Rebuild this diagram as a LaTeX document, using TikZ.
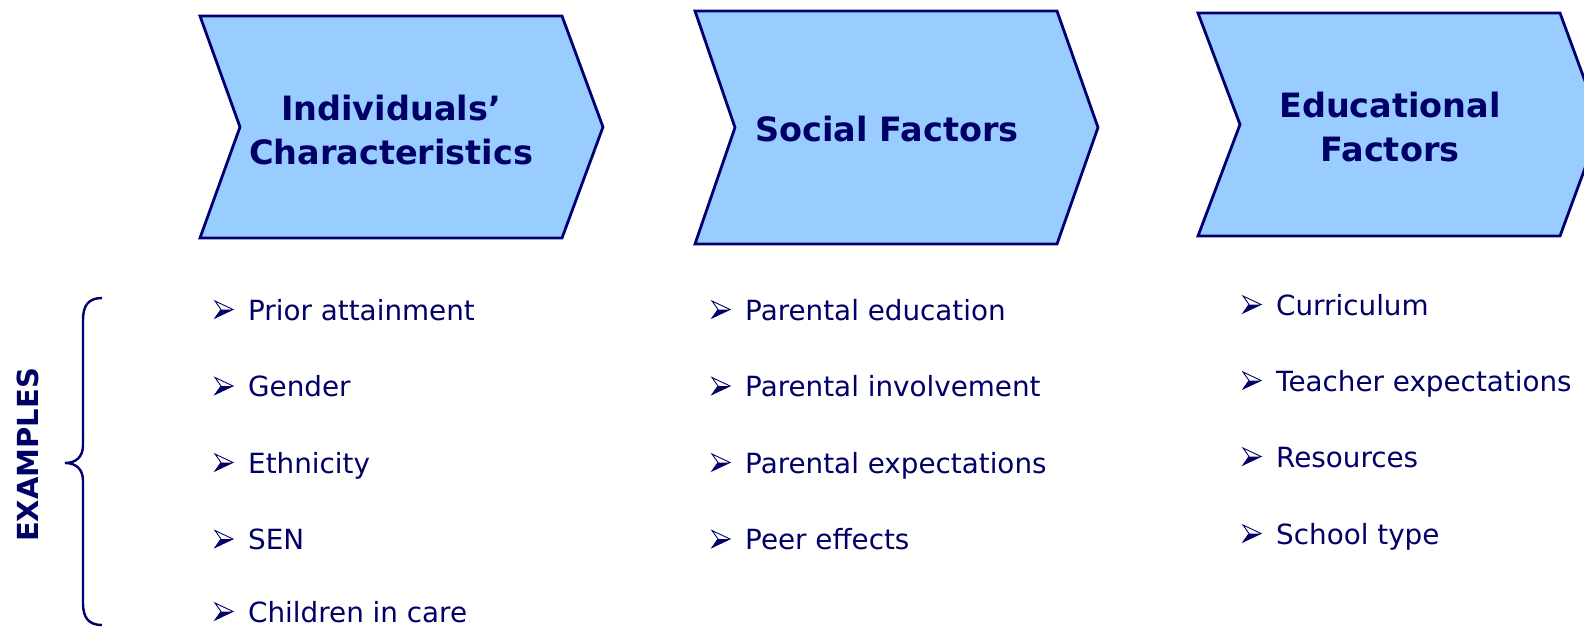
\documentclass[tikz,border=0pt]{standalone}
\usepackage{fontspec}
\setmainfont{DejaVu Sans}
\definecolor{textnavy}{HTML}{000066}
\definecolor{linenavy}{HTML}{000070}
\definecolor{chevfill}{HTML}{99CCFF}

\begin{document}
\begin{tikzpicture}[x=1pt, y=-1pt,
		chevron/.style={draw=linenavy, line width=2.8pt, fill=chevfill, line join=miter},
		heading/.style={text=textnavy, font=\bfseries\fontsize{33.5}{44}\selectfont, align=center, inner sep=0pt},
		item/.style={text=textnavy, font=\fontsize{27.8}{33}\selectfont, anchor=base west, inner sep=0pt},
		brace/.style={draw=linenavy, line width=2.4pt},
		arrowbul/.pic={
			\fill[textnavy] (18,-10.5) -- (6,-10.5) -- (0,-2) -- cycle;
			\draw[textnavy, line width=0.9pt, line join=miter] (18,-10.5) -- (0,-19) -- (6,-10.5) -- (0,-2) -- cycle;
		},
	]
		\useasboundingbox (0,0) rectangle (1584,627);
		\clip (0,0) rectangle (1584,627);
	
		% chevrons
		\draw[chevron] (200,16) -- (562,16) -- (603,127) -- (562,238) -- (200,238) -- (240,127) -- cycle;
		\draw[chevron] (695,11) -- (1057,11) -- (1098,127.5) -- (1057,244) -- (695,244) -- (735,127.5) -- cycle;
		\draw[chevron] (1198,13) -- (1560,13) -- (1601,124.5) -- (1560,236) -- (1198,236) -- (1240,124.5) -- cycle;
		
		\node[heading] (indiv) at (391,130) {Individuals’\\Characteristics};
		\node[heading] (social) at (887,129) {Social Factors};
		\node[heading] (educ) at (1390,127) {Educational\\Factors};
		
		% examples
		\draw[brace] (102,298) .. controls (88,298) and (83,306) .. (83,320) -- (83,445)
			.. controls (83,457) and (76,463) .. (65,463)
			.. controls (76,463) and (83,469) .. (83,481) -- (83,603)
			.. controls (83,617) and (88,625) .. (102,625);
		\node[text=textnavy, font=\bfseries\fontsize{29}{29}\selectfont, rotate=90] (examples) at (28,455) {EXAMPLES};
		
		\node[item] (prior) at (248,320) {Prior attainment};
		\node[item] (gender) at (248,396.5) {Gender};
		\node[item] (ethnic) at (248,473) {Ethnicity};
		\node[item] (sen) at (248,549.5) {SEN};
		\node[item] (care) at (248,622) {Children in care};
		
		\node[item] (pared) at (745,320) {Parental education};
		\node[item] (parinv) at (745,396.5) {Parental involvement};
		\node[item] (parexp) at (745,473) {Parental expectations};
		\node[item] (peer) at (745,549.5) {Peer effects};
		
		\node[item] (curric) at (1276,315) {Curriculum};
		\node[item] (teach) at (1276,391) {Teacher expectations};
		\node[item] (resour) at (1276,467) {Resources};
		\node[item] (school) at (1276,544) {School type};
		
		% bullets
		\foreach \n in {prior,gender,ethnic,sen,care,pared,parinv,parexp,peer,curric,teach,resour,school}
			\pic at ([xshift=-33pt]\n.base west) {arrowbul};
	\end{tikzpicture}
\end{document}
